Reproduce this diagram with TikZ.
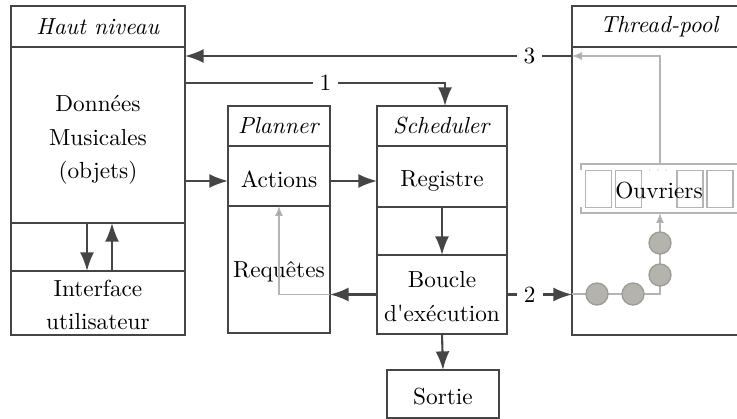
\documentclass[tikz,border=0pt]{standalone}
\usetikzlibrary{arrows.meta,calc}
\newlength\pxu
\setlength\pxu{0.43pt}
\definecolor{dk}{HTML}{454545}
\definecolor{lg}{HTML}{B4B4B4}
\definecolor{tipg}{HTML}{A8A8A8}
\definecolor{cfill}{HTML}{B4B3AC}
\definecolor{cdraw}{HTML}{9E9E98}
\begin{document}
\begin{tikzpicture}[x=\pxu, y={(0pt,-\pxu)},
  sec/.style={draw=dk, line width=0.95pt, inner sep=0pt, outer sep=0pt, align=center, font=\fontsize{10}{14.3}\selectfont},
  txt/.style={inner sep=0pt, outer sep=0pt, align=center, font=\fontsize{10}{14.3}\selectfont},
  sz/.style 2 args={minimum width=#1\pxu, minimum height=#2\pxu},
  arr/.style={draw=dk, line width=0.9pt, -{Latex[length=8pt,width=6pt]}},
  lab/.style={fill=white, inner sep=3pt, font=\fontsize{10}{12}\selectfont},
  gline/.style={draw=lg, line width=0.6pt},
  garr/.style={gline, -{Latex[length=4.3pt,width=3.5pt,fill=tipg]}},
  wbox/.style={draw=lg, line width=0.6pt, inner sep=0pt, sz={26}{37}},
  circ/.style={circle, fill=cfill, draw=cdraw, line width=0.6pt, inner sep=0pt, minimum size=22\pxu}]
\useasboundingbox (0,0) rectangle (737,419);
\clip (0,0) rectangle (737,419);

% Haut niveau
\node[sec, sz={174}{41}] (hnT) at (98,26.5) {\textit{Haut niveau}};
\node[sec, sz={174}{176}] (don) at (98,135) {};
\node[txt] (donT) at ($(don)+(0,5)$) {Données\\Musicales\\(objets)};
\node[sec, sz={174}{48}] (hnG) at (98,247) {};
\node[sec, sz={174}{64}] (ui) at (98,303) {};
\node[txt] (uiT) at ($(ui)+(0,2)$) {Interface\\utilisateur};

% Planner
\node[sec, sz={102}{40}] (plT) at (279,126) {\textit{Planner}};
\node[sec, sz={102}{60}] (act) at (279,176) {};
\node[txt] (actT) at ($(act)+(0,3)$) {Actions};
\node[sec, sz={102}{127}] (req) at (279,269.5) {};
\node[txt] (reqT) at ($(req)+(0,2)$) {Requêtes};

% Scheduler
\node[sec, sz={130}{40}] (scT) at (442,126) {\textit{Scheduler}};
\node[sec, sz={130}{61}] (reg) at (442,176.5) {};
\node[txt] (regT) at ($(reg)+(0,4)$) {Registre};
\node[sec, sz={130}{48}] (scG) at (442,231) {};
\node[sec, sz={130}{79}] (bou) at (442,294.5) {};
\node[txt] (bouT) at ($(bou)+(0,2)$) {Boucle\\d\textquotesingle exécution};

% Sortie
\node[sec, sz={112}{48}] (sortie) at (443,394) {};
\node[txt] (sortieT) at ($(sortie)+(0,3)$) {Sortie};

% Thread-pool
\node[sec, sz={176}{41}] (tpT) at (660,26.5) {\textit{Thread-pool}};
\node[sec, sz={176}{288}] (tpB) at (660,191) {};

% Ouvriers group
\node[inner sep=0pt, outer sep=0pt, sz={180}{49}] (brk) at (671,188.5) {};
\draw[gline] ($(brk.north west)+(0,6)$) -- (brk.north west) -- (brk.north east);
\draw[gline] ($(brk.south west)+(0,-6)$) -- (brk.south west) -- (brk.south east);
\node[wbox] (w1) at (598.5,189) {};
\node[wbox] (w2) at (628.5,189) {};
\node[wbox] (w3) at (690,189) {};
\node[wbox] (w4) at (720,189) {};
\node[text=lg!70, font=\tiny, inner sep=0pt] (dots) at (658,171) {$\cdots$};
\node[txt] (ouv) at (659,191) {Ouvriers};

% circles
\coordinate (p1) at (597,294);
\coordinate (p2) at (633,294);
\coordinate (p3) at (660,275);
\coordinate (p4) at (660,243);
\draw[garr] (tpB.west |- p1) -| (p4 |- brk.south);
\node[circ] (c1) at (p1) {};
\node[circ] (c2) at (p2) {};
\node[circ] (c3) at (p3) {};
\node[circ] (c4) at (p4) {};

% arrows
\draw[arr] ($(don.south)+(-11,0)$) -- ($(hnG.south)+(-11,0)$);
\draw[arr] ($(hnG.south)+(14,0)$) -- ($(don.south)+(14,0)$);

\coordinate (ya) at ($(act.west)+(0,5)$);
\draw[arr] (don.east |- ya) -- (ya);
\draw[arr] (act.east |- ya) -- (reg.west |- ya);

\draw[arr] (reg.south) -- (bou.north);
\draw[arr] (bou.south) -- (sortie.north);

\coordinate (rq) at (bou.west -| req.east);
\draw[garr] (rq) -| (act.south);
\draw[arr] (bou.west) -- (rq);

\draw[arr] (bou.east) -- node[lab,pos=0.35]{2} (bou.east -| tpB.west);

\coordinate (y3) at ($(tpB.north west)+(0,9)$);
\draw[garr] (p4 |- brk.north) |- (y3);
\draw[arr] (y3) -- node[lab,pos=0.11]{3} (don.east |- y3);

\coordinate (y1) at ($(don.north east)+(0,36)$);
\coordinate (s1) at ($(scT.north)+(3,0)$);
\draw[arr] (y1) -| node[lab,pos=0.27]{1} (s1);
\end{tikzpicture}
\end{document}
